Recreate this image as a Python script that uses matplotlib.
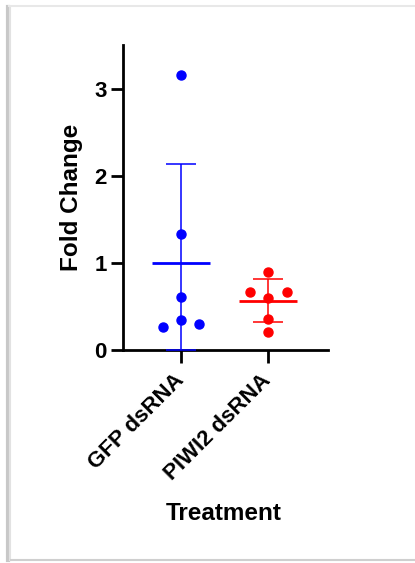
import numpy as np
import matplotlib
matplotlib.use("Agg")
import matplotlib.pyplot as plt
from matplotlib.lines import Line2D
import matplotlib.transforms as mtransforms

plt.rcParams['font.family'] = ['Liberation Sans', 'DejaVu Sans']
plt.rcParams['font.weight'] = 'bold'

categories = ["GFP dsRNA", "PIWI2 dsRNA"]
gfp_values = [3.16, 1.33, 0.61, 0.34, 0.26, 0.30]
piwi2_values = [0.89, 0.67, 0.67, 0.595, 0.36, 0.205]
offsets = [0.0, 0.0, 0.0, 0.0, -0.21, 0.21]
piwi2_offsets = [0.0, -0.21, 0.21, 0.0, 0.0, 0.0]
colors = ["#0000FF", "#FF0000"]
yticks = [0, 1, 2, 3]
xlabel = "Treatment"
ylabel = "Fold Change"

W, H = 415, 563
fig = plt.figure(figsize=(W / 100, H / 100), dpi=100)
ax = fig.add_axes([123.3 / W, 1 - 350 / H, (328 - 123.3) / W, (350 - 45) / H])

ylim = (0, 3.5)
series = [gfp_values, piwi2_values]
offs = [offsets, piwi2_offsets]
for i, (vals, off, c) in enumerate(zip(series, offs, colors)):
    vals = np.array(vals)
    x = i + np.array(off)
    ax.plot(x, vals, 'o', color=c, markersize=6.5, zorder=4, clip_on=False)
    m = vals.mean()
    sd = vals.std(ddof=1)
    lower = min(sd, m - ylim[0])
    ax.errorbar([i], [m], yerr=[[lower], [sd]], fmt='none', ecolor=c,
                elinewidth=1.1, capsize=10.5, capthick=1.1, zorder=3)
    ax.plot([i - 0.33, i + 0.33], [m, m], color=c, lw=2.0, zorder=3,
            solid_capstyle='butt')

ax.set_xlim(-0.661, 1.684)
ax.set_ylim(*ylim)
ax.set_yticks(yticks)
ax.set_xticks([0, 1])
ax.set_xticklabels(categories)
for s in ['top', 'right']:
    ax.spines[s].set_visible(False)
for s in ['left', 'bottom']:
    ax.spines[s].set_linewidth(2.0)
    ax.spines[s].set_color('black')
    ax.spines[s].set_capstyle('projecting')
ax.tick_params(axis='both', width=2.0, length=9, colors='black')
ax.tick_params(axis='y', labelsize=16, pad=3)
ax.tick_params(axis='x', labelsize=16, pad=3)

offset = mtransforms.ScaledTranslation(7 / 100, -3 / 100, fig.dpi_scale_trans)
for lab in ax.get_xticklabels():
    lab.set_rotation(45)
    lab.set_ha('right')
    lab.set_va('top')
    lab.set_fontweight('bold')
    lab.set_transform(lab.get_transform() + offset)
for lab in ax.get_yticklabels():
    lab.set_fontweight('bold')

fig.text(224 / W, 1 - 513 / H, xlabel, ha='center', va='center',
         fontsize=17.5, fontweight='bold')
fig.text(71.7 / W, 1 - 197 / H, ylabel, ha='center', va='center',
         rotation=90, fontsize=17.5, fontweight='bold')

# page border / shadow
fig.add_artist(Line2D([7.5 / W, 7.5 / W], [1 - 7 / H, 1 - 560 / H],
                      transform=fig.transFigure, color='#c8c8c8', lw=3))
fig.add_artist(Line2D([10 / W, 10 / W], [1 - 7 / H, 1 - 560 / H],
                      transform=fig.transFigure, color='#e2e2e2', lw=1.5))
fig.add_artist(Line2D([9 / W, 1], [1 - 6 / H, 1 - 6 / H],
                      transform=fig.transFigure, color='#e8e8e8', lw=1.5))
fig.add_artist(Line2D([11 / W, 1], [1 - 560 / H, 1 - 560 / H],
                      transform=fig.transFigure, color='#cfcfcf', lw=1.5))

fig.savefig("out.png", dpi=100)
